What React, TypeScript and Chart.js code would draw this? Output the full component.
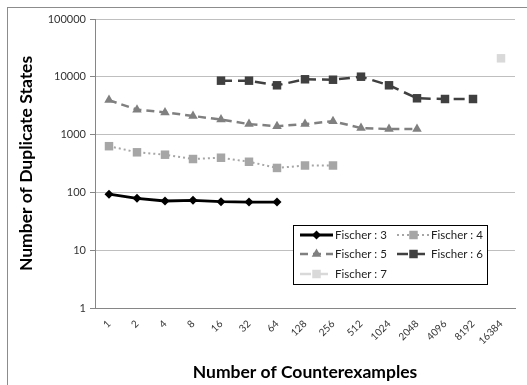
import React, { useEffect, useRef } from "react";
import { Chart, registerables } from "chart.js";

Chart.register(...registerables);

const categories = ["1", "2", "4", "8", "16", "32", "64", "128", "256", "512", "1024", "2048", "4096", "8192", "16384"];
const fischer3 = [93, 79, 71, 73, 69, 68, 68, null, null, null, null, null, null, null, null];
const fischer4 = [630, 494, 449, 378, 398, 339, 265, 292, 292, null, null, null, null, null, null];
const fischer5 = [3950, 2700, 2420, 2100, 1820, 1520, 1400, 1520, 1700, 1300, 1250, 1250, null, null, null];
const fischer6 = [null, null, null, null, 8570, 8570, 7130, 9060, 8900, 10040, 7130, 4250, 4130, 4130, null];
const fischer7 = [null, null, null, null, null, null, null, null, null, null, null, null, null, null, 20900];
const yTicks = [1, 10, 100, 1000, 10000, 100000];

const FONT = "Lato, 'Open Sans', sans-serif";

const legendPlugin = {
  id: "customLegend",
  beforeDraw(chart: any) {
    const ctx = chart.ctx;
    ctx.save();
    ctx.fillStyle = "#ffffff";
    ctx.fillRect(0, 0, chart.width, chart.height);
    ctx.strokeStyle = "#8c8c8c";
    ctx.lineWidth = 1;
    ctx.strokeRect(7.5, 7.5, 700, 700);
    ctx.restore();
  },
  afterDraw(chart: any) {
    const ctx = chart.ctx;
    const ds = chart.data.datasets;
    const box = { x: 293, y: 225, w: 194, h: 59 };
    ctx.save();
    ctx.fillStyle = "#ffffff";
    ctx.fillRect(box.x, box.y, box.w, box.h);
    ctx.strokeStyle = "#000000";
    ctx.lineWidth = 1;
    ctx.strokeRect(box.x + 0.5, box.y + 0.5, box.w, box.h);
    const cols = [300, 397];
    const rows = [235, 254, 274];
    const textX = [335, 431];
    ds.forEach((d: any, i: number) => {
      const c = i % 2;
      const r = Math.floor(i / 2);
      const x0 = cols[c];
      const x1 = x0 + 33;
      const y = rows[r];
      ctx.save();
      ctx.strokeStyle = d.borderColor;
      ctx.lineWidth = d.borderWidth;
      ctx.setLineDash(d.borderDash || []);
      ctx.beginPath();
      ctx.moveTo(x0, y);
      ctx.lineTo(x1, y);
      ctx.stroke();
      ctx.restore();
      ctx.save();
      ctx.fillStyle = d.pointBackgroundColor;
      const mx = (x0 + x1) / 2;
      const rad = d.pointRadius;
      if (d.pointStyle === "rectRot") {
        ctx.beginPath();
        ctx.moveTo(mx, y - rad);
        ctx.lineTo(mx + rad, y);
        ctx.lineTo(mx, y + rad);
        ctx.lineTo(mx - rad, y);
        ctx.closePath();
        ctx.fill();
      } else if (d.pointStyle === "triangle") {
        ctx.beginPath();
        ctx.moveTo(mx, y - rad);
        ctx.lineTo(mx + rad * 0.87, y + rad * 0.5);
        ctx.lineTo(mx - rad * 0.87, y + rad * 0.5);
        ctx.closePath();
        ctx.fill();
      } else {
        const s = rad * Math.SQRT1_2;
        ctx.fillRect(mx - s, y - s, 2 * s, 2 * s);
      }
      ctx.restore();
      ctx.fillStyle = "#222222";
      ctx.font = `11.5px ${FONT}`;
      ctx.textBaseline = "middle";
      ctx.textAlign = "left";
      ctx.fillText(d.label, textX[c], y);
    });
    ctx.restore();
  },
};

export default function App() {
  const ref = useRef<HTMLCanvasElement>(null);
  useEffect(() => {
    document.body.style.margin = "0";
    document.body.style.overflow = "hidden";
    const mk = (label: string, data: any[], color: string, dash: number[], width: number, style: string, radius: number) => ({
      label,
      data,
      borderColor: color,
      backgroundColor: color,
      pointBackgroundColor: color,
      pointBorderColor: color,
      pointBorderWidth: 0,
      borderWidth: width,
      borderDash: dash,
      pointStyle: style,
      pointRadius: radius,
      tension: 0,
      spanGaps: false,
    });
    const chart = new Chart(ref.current!, {
      type: "line",
      data: {
        labels: categories,
        datasets: [
          mk("Fischer : 3", fischer3, "#000000", [], 2.8, "rectRot", 4.5),
          mk("Fischer : 4", fischer4, "#a6a6a6", [2, 3], 2, "rect", 6),
          mk("Fischer : 5", fischer5, "#808080", [8, 5], 2.5, "triangle", 5.5),
          mk("Fischer : 6", fischer6, "#404040", [11, 6], 2.5, "rect", 6),
          mk("Fischer : 7", fischer7, "#d9d9d9", [11, 6], 2.5, "rect", 6),
        ],
      },
      options: {
        animation: false,
        responsive: false,
        layout: { padding: { left: 8, top: 19, right: 12, bottom: 0 } },
        plugins: { legend: { display: false }, tooltip: { enabled: false } },
        scales: {
          x: {
            offset: true,
            grid: { display: false, drawTicks: false },
            border: { display: true, color: "#868686", width: 1 },
            ticks: {
              minRotation: 45,
              maxRotation: 45,
              autoSkip: false,
              padding: 10,
              color: "#333333",
              font: { family: FONT, size: 10 },
            },
            title: {
              display: true,
              text: "Number of Counterexamples",
              color: "#000000",
              font: { family: FONT, size: 17.5, weight: "bold" },
              padding: { top: 0, bottom: 2 },
            },
            afterFit: (s: any) => {
              s.height = 77;
            },
          },
          y: {
            type: "logarithmic",
            min: 1,
            max: 100000,
            grid: { color: "#bfbfbf", lineWidth: 1, tickLength: 5, tickColor: "#868686" },
            border: { display: true, color: "#868686", width: 1 },
            afterBuildTicks: (s: any) => {
              s.ticks = yTicks.map((v) => ({ value: v }));
            },
            ticks: {
              autoSkip: false,
              padding: 4,
              color: "#333333",
              font: { family: FONT, size: 11 },
              callback: (v: any) => String(v),
            },
            title: {
              display: true,
              text: "Number of Duplicate States",
              color: "#000000",
              font: { family: FONT, size: 17.5, weight: "bold" },
              padding: { top: 8, bottom: 0 },
            },
            afterFit: (s: any) => {
              s.width = 87;
            },
          },
        },
      },
      plugins: [legendPlugin],
    } as any);
    return () => chart.destroy();
  }, []);
  return (
    <div style={{ width: 527, height: 385 }}>
      <canvas ref={ref} width={527} height={385} style={{ display: "block" }} />
    </div>
  );
}
